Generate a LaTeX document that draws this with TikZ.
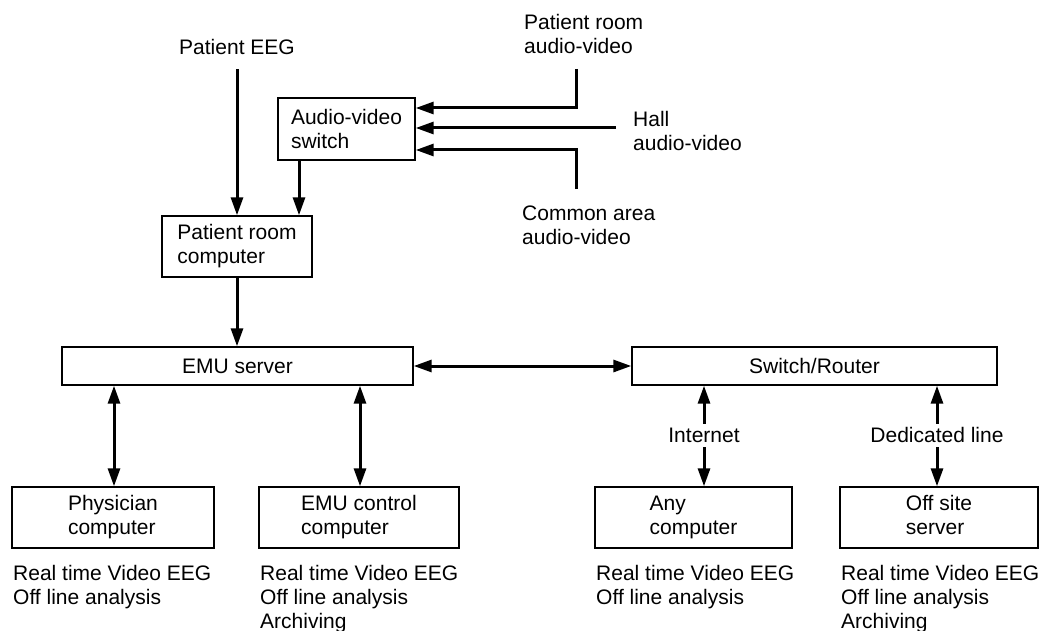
\documentclass[tikz,border=0pt]{standalone}
\usepackage{fontspec}
\setmainfont{Liberation Sans}
\usetikzlibrary{arrows.meta}
\begin{document}
\begin{tikzpicture}[x=1pt,y=-1pt,
  every node/.style={font=\fontsize{21}{24}\selectfont},
  box/.style={draw, line width=1.4pt, align=left, inner sep=0pt},
  wide/.style={box, minimum width=#1, minimum height=38pt},
  unit/.style={box, minimum width=#1, minimum height=61pt},
  tip/.tip={Triangle[length=18pt,width=12pt]},
  arr/.style={line width=3pt, -tip},
  darr/.style={line width=3pt, tip-tip},
  note/.style={align=left, inner sep=0pt, anchor=base west},
  gaplabel/.style={inner sep=0pt, anchor=base, text height=18pt, text depth=5pt}]
\useasboundingbox (0,0) rectangle (1043,631);

% boxes
\node[box, minimum width=137pt, minimum height=62pt] (avs) at (346.5,129) {Audio-video\\switch};
\node[box, minimum width=150pt, minimum height=61pt] (prc) at (237,246.5) {Patient room\\computer};
\node[wide=351pt] (emu) at (237.5,366) {EMU server};
\node[wide=365pt] (sw) at (814.5,366) {Switch/Router};
\node[unit=202pt] (phy) at (113,517.5) {Physician\\computer};
\node[unit=200pt] (ctl) at (359,517.5) {EMU control\\computer};
\node[unit=197pt] (any) at (693.5,517.5) {Any\\computer};
\node[unit=198pt] (off) at (939,517.5) {Off site\\server\vphantom{p}};

% source labels (base = baseline of the last line)
\node[inner sep=0pt, anchor=base, text depth=14pt] (eeg) at (237,55) {Patient EEG};
\node[note] (prav) at (524,54) {Patient room\\audio-video};
\node[note] (hall) at (633,151) {Hall\\audio-video};
\node[note] (comm) at (522,244) {Common area\\audio-video};

% link labels
\node[gaplabel] (inet) at (704,442) {Internet};
\node[gaplabel] (ded) at (937,442) {Dedicated line};

% capability lists
\node[note] (phyuse) at (13,604) {Real time Video EEG\\Off line analysis};
\node[note] (ctluse) at (260,628) {Real time Video EEG\\Off line analysis\\Archiving};
\node[note] (anyuse) at (596,604) {Real time Video EEG\\Off line analysis};
\node[note] (offuse) at (841,628) {Real time Video EEG\\Off line analysis\\Archiving};

% helper columns and feed ends
\coordinate (colav) at (299,0);
\coordinate (colphy) at (114,0);
\coordinate (colctl) at (360,0);
\coordinate (praven) at (576,69);
\coordinate (hallend) at (616,128);
\coordinate (commend) at (576,189);

% audio-video feeds
\draw[arr] (praven) |- (avs.east |- 0,108);
\draw[arr] (hallend) -- (hallend -| avs.east);
\draw[arr] (commend) |- (avs.east |- 0,150);

% signal path
\draw[arr] (eeg.south) -- (prc.north);
\draw[arr] (avs.south -| colav) -- (prc.north -| colav);
\draw[arr] (prc.south) -- (emu.north -| prc.south);
\draw[darr] (emu.east) -- (sw.west);
\draw[darr] (emu.south -| colphy) -- (phy.north -| colphy);
\draw[darr] (emu.south -| colctl) -- (ctl.north -| colctl);
\draw[arr] (inet.north) -- (sw.south -| inet.north);
\draw[arr] (inet.south) -- (any.north -| inet.south);
\draw[arr] (ded.north) -- (sw.south -| ded.north);
\draw[arr] (ded.south) -- (off.north -| ded.south);
\end{tikzpicture}
\end{document}
